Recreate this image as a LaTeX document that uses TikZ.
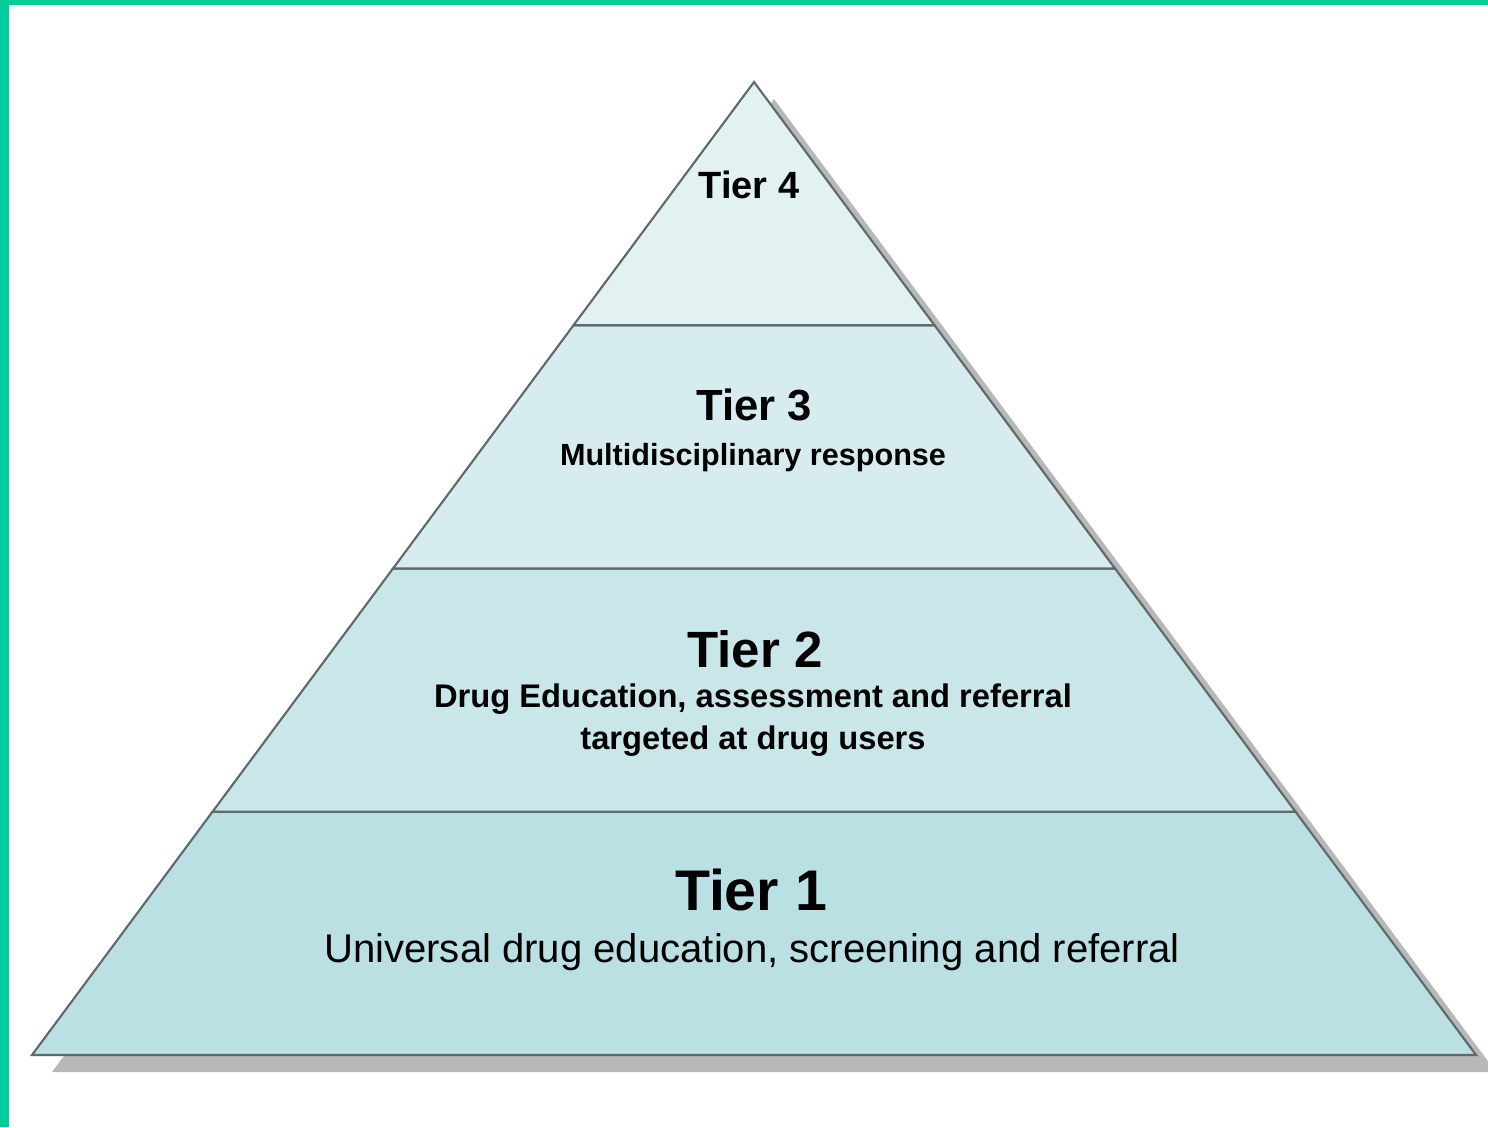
\documentclass[tikz,border=0pt]{standalone}
\usepackage{fontspec}
\setmainfont{Liberation Sans}
\definecolor{frame}{HTML}{00CC99}
\definecolor{edge}{HTML}{5E6A6A}
\definecolor{tierfour}{HTML}{E2F2F3}
\definecolor{tierthree}{HTML}{D7ECEE}
\definecolor{tiertwo}{HTML}{C9E6E9}
\definecolor{tierone}{HTML}{BBE0E3}
\usetikzlibrary{calc, positioning}

\begin{document}
\begin{tikzpicture}[
  x=0.01cm, y=-0.01cm,
  layer/.style={draw=edge, line width=0.6pt, line join=miter},
  tlabel/.style={anchor=base, inner sep=0pt, font=\bfseries},
  tsub/.style={anchor=base, inner sep=0pt},
]
\useasboundingbox (0,0) rectangle (1488,1127);
% frame strips
\fill[frame] (0,0) rectangle (1488,5);
\fill[frame] (0,0) rectangle (9,1127);

\coordinate (apex) at (754,82);
\coordinate (bl) at (32,1055);
\coordinate (br) at (1476,1055);

% drop shadow
\fill[black!28] ([shift={(20,17)}]apex) -- ([shift={(20,17)}]bl) -- ([shift={(20,17)}]br) -- cycle;

% split points on both slopes
\coordinate (l3) at ($(apex)!0.25!(bl)$);
\coordinate (r3) at ($(apex)!0.25!(br)$);
\coordinate (l2) at ($(apex)!0.5!(bl)$);
\coordinate (r2) at ($(apex)!0.5!(br)$);
\coordinate (l1) at ($(apex)!0.75!(bl)$);
\coordinate (r1) at ($(apex)!0.75!(br)$);

\filldraw[layer, fill=tierone] (l1) -- (bl) -- (br) -- (r1) -- cycle;
\filldraw[layer, fill=tiertwo] (l2) -- (l1) -- (r1) -- (r2) -- cycle;
\filldraw[layer, fill=tierthree] (l3) -- (l2) -- (r2) -- (r3) -- cycle;
\filldraw[layer, fill=tierfour] (apex) -- (l3) -- (r3) -- cycle;

% labels
\node[tsub, font=\fontsize{10.8}{12}\selectfont\bfseries] (t4) at (749,198) {Tier 4};

\node[tlabel, font=\fontsize{12.4}{14}\selectfont\bfseries] (t3) at (754,420) {Tier 3};
\node[tsub, font=\fontsize{8.7}{10}\selectfont\bfseries] (t3s) at (753,465) {Multidisciplinary response};

\node[tlabel, font=\fontsize{14.5}{17}\selectfont\bfseries] (t2) at (755,667) {Tier 2};
\node[tsub, font=\fontsize{9.3}{11}\selectfont\bfseries] (t2s) at (753,707) {Drug Education, assessment and referral};
\node[tsub, font=\fontsize{9.3}{11}\selectfont\bfseries] (t2t) at (753,749) {targeted at drug users};

\node[tlabel, font=\fontsize{16.3}{19}\selectfont\bfseries] (t1) at (751,910) {Tier 1};
\node[tsub, font=\fontsize{11.4}{13}\selectfont] (t1s) at (752,962) {Universal drug education, screening and referral};
\end{tikzpicture}
\end{document}
